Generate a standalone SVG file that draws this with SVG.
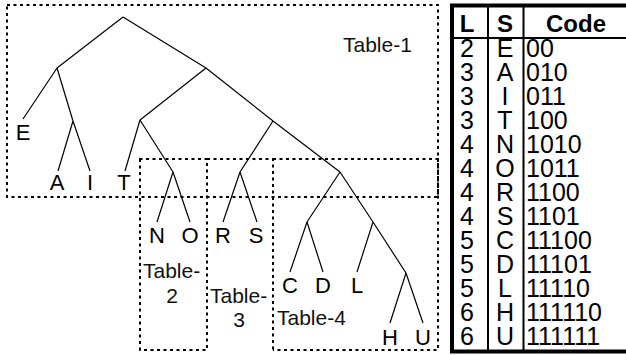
<svg xmlns="http://www.w3.org/2000/svg" width="626" height="355" viewBox="0 0 626 355">
<style>
.t{font-family:"Liberation Sans",Arial,sans-serif;font-size:22px;fill:#000}
.r{font-family:"Liberation Sans",Arial,sans-serif;font-size:25px;fill:#000}
.lbl{font-family:"Liberation Sans",Arial,sans-serif;font-size:21px;fill:#111}
.c{text-anchor:middle}
.h{font-family:"Liberation Sans",Arial,sans-serif;font-size:24px;font-weight:bold;text-anchor:middle;fill:#000}
.e{stroke:#000;stroke-width:1.2;fill:none}
.d{stroke:#000;stroke-width:2;stroke-dasharray:3 3.5;fill:none}
</style>
<rect width="626" height="355" fill="#fff"/>
<g id="regions">
<g id="table1-box"><rect class="d" x="7" y="5" width="431" height="192"/><text class="lbl" x="343" y="52">Table-1</text></g>
<g id="table2-box"><path class="d" d="M140 159V350H207V159Z"/><text class="lbl" x="143" y="278">Table-</text><text class="lbl c" x="172" y="303">2</text></g>
<g id="table3-box"><path class="d" d="M207 159H273V350"/><text class="lbl" x="210" y="303">Table-</text><text class="lbl c" x="239" y="327">3</text></g>
<g id="table4-box"><path class="d" d="M273 159H438V350H273"/><text class="lbl" x="277" y="325">Table-4</text></g>
</g>
<g id="connectors">
<path class="e" d="M123 17L57 68M123 17L206 68M57 68L23 119M57 68L73 121M73 121L58 171M73 121L90 171M206 68L140 120M140 120L125 171M140 120L173 172M206 68L273 121M273 121L240 172M273 121L340 172M173 172L157 222M173 172L190 222M240 172L223 222M240 172L257 222M340 172L307 222M340 172L373 222M307 222L290 272M307 222L323 272M373 222L357 272M373 222L406 273M406 273L390 323M406 273L423 323"/>
</g>
<g id="leaves">
<g id="E"><text class="t c" x="23" y="140">E</text></g>
<g id="A"><text class="t c" x="57" y="190">A</text></g>
<g id="I"><text class="t c" x="90" y="190">I</text></g>
<g id="T"><text class="t c" x="124" y="190">T</text></g>
<g id="N"><text class="t c" x="157" y="243">N</text></g>
<g id="O"><text class="t c" x="190" y="243">O</text></g>
<g id="R"><text class="t c" x="223" y="243">R</text></g>
<g id="S"><text class="t c" x="256" y="243">S</text></g>
<g id="C"><text class="t c" x="290" y="293">C</text></g>
<g id="D"><text class="t c" x="323" y="293">D</text></g>
<g id="L"><text class="t c" x="357" y="293">L</text></g>
<g id="H"><text class="t c" x="390" y="345">H</text></g>
<g id="U"><text class="t c" x="423" y="345">U</text></g>
</g>
<g id="code-table">
<rect x="452" y="5.5" width="180" height="346" fill="none" stroke="#000" stroke-width="4"/>
<line x1="488" y1="5" x2="488" y2="352" stroke="#000" stroke-width="2"/>
<line x1="523.5" y1="5" x2="523.5" y2="352" stroke="#000" stroke-width="2"/>
<line x1="452" y1="38" x2="626" y2="38" stroke="#000" stroke-width="2"/>
<text class="h" x="467" y="32">L</text><text class="h" x="505" y="32">S</text><text class="h" x="576" y="32">Code</text>
<g class="r">
<text class="c" x="467" y="57">2</text><text class="c" x="505" y="57">E</text><text x="526" y="57">00</text>
<text class="c" x="467" y="81">3</text><text class="c" x="505" y="81">A</text><text x="526" y="81">010</text>
<text class="c" x="467" y="105">3</text><text class="c" x="505" y="105">I</text><text x="526" y="105">011</text>
<text class="c" x="467" y="129">3</text><text class="c" x="505" y="129">T</text><text x="526" y="129">100</text>
<text class="c" x="467" y="153">4</text><text class="c" x="505" y="153">N</text><text x="526" y="153">1010</text>
<text class="c" x="467" y="177">4</text><text class="c" x="505" y="177">O</text><text x="526" y="177">1011</text>
<text class="c" x="467" y="201">4</text><text class="c" x="505" y="201">R</text><text x="526" y="201">1100</text>
<text class="c" x="467" y="225">4</text><text class="c" x="505" y="225">S</text><text x="526" y="225">1101</text>
<text class="c" x="467" y="249">5</text><text class="c" x="505" y="249">C</text><text x="526" y="249">11100</text>
<text class="c" x="467" y="273">5</text><text class="c" x="505" y="273">D</text><text x="526" y="273">11101</text>
<text class="c" x="467" y="297">5</text><text class="c" x="505" y="297">L</text><text x="526" y="297">11110</text>
<text class="c" x="467" y="321">6</text><text class="c" x="505" y="321">H</text><text x="526" y="321">111110</text>
<text class="c" x="467" y="345">6</text><text class="c" x="505" y="345">U</text><text x="526" y="345">111111</text>
</g>
</g>
</svg>
